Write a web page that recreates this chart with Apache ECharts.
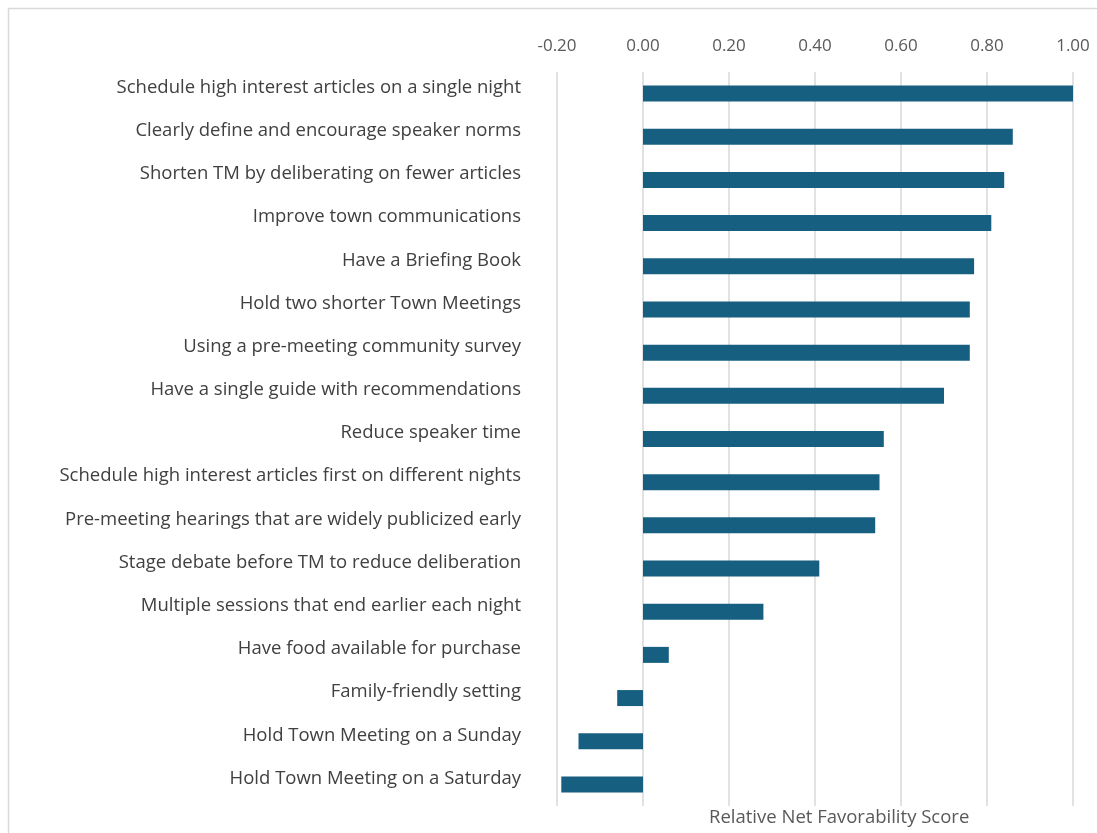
<!DOCTYPE html>
<html>
<head>
<meta charset="utf-8">
<script src="https://cdn.jsdelivr.net/npm/echarts@6/dist/echarts.min.js"></script>
<style>
  html, body { margin: 0; padding: 0; background: #fff; }
  #container { width: 1097px; height: 833px; }
</style>
</head>
<body>
<div id="container"></div>
<script>
// data, top to bottom
const categories = [
    'Schedule high interest articles on a single night',
    'Clearly define and encourage speaker norms',
    'Shorten TM by deliberating on fewer articles',
    'Improve town communications',
    'Have a Briefing Book',
    'Hold two shorter Town Meetings',
    'Using a pre-meeting community survey',
    'Have a single guide with recommendations',
    'Reduce speaker time',
    'Schedule high interest articles first on different nights',
    'Pre-meeting hearings that are widely publicized early',
    'Stage debate before TM to reduce deliberation',
    'Multiple sessions that end earlier each night',
    'Have food available for purchase',
    'Family-friendly setting',
    'Hold Town Meeting on a Sunday',
    'Hold Town Meeting on a Saturday'
];
const scores = [1.00, 0.86, 0.84, 0.81, 0.77, 0.76, 0.76, 0.70, 0.56, 0.55, 0.54, 0.41, 0.28, 0.06, -0.06, -0.15, -0.19];
const axisTitle = 'Relative Net Favorability Score';

const chart = echarts.init(document.getElementById('container'), null, { renderer: 'canvas' });

const font = '"Open Sans", Lato, sans-serif';

chart.setOption({
    backgroundColor: '#fff',
    animation: false,
    textStyle: { fontFamily: font },
    grid: { left: 557, right: 24, top: 72, bottom: 27, containLabel: false },
    graphic: [
        {
            type: 'rect',
            shape: { x: 8.5, y: 8.5, width: 1100, height: 840 },
            style: { fill: 'none', stroke: '#d9d9d9', lineWidth: 1.5 },
            silent: true
        },
        {
            type: 'text',
            left: 709,
            top: 808,
            style: { text: axisTitle, fill: '#595959', font: '18.5px ' + font }
        }
    ],
    xAxis: {
        type: 'value',
        position: 'top',
        min: -0.2,
        max: 1.0,
        interval: 0.2,
        axisLine: { show: false },
        axisTick: { show: false },
        axisLabel: {
            color: '#595959',
            fontSize: 17,
            margin: 17,
            formatter: v => v.toFixed(2)
        },
        splitLine: { show: true, lineStyle: { color: '#d9d9d9', width: 1.5 } }
    },
    yAxis: {
        type: 'category',
        inverse: true,
        data: categories,
        axisLine: { show: false },
        axisTick: { show: false },
        axisLabel: {
            color: '#404040',
            fontSize: 18.5,
            margin: 36,
            verticalAlign: 'bottom',
            lineHeight: 12
        }
    },
    series: [{
        type: 'bar',
        data: scores,
        barWidth: 16,
        itemStyle: { color: '#175f80' }
    }]
});
</script>
</body>
</html>
